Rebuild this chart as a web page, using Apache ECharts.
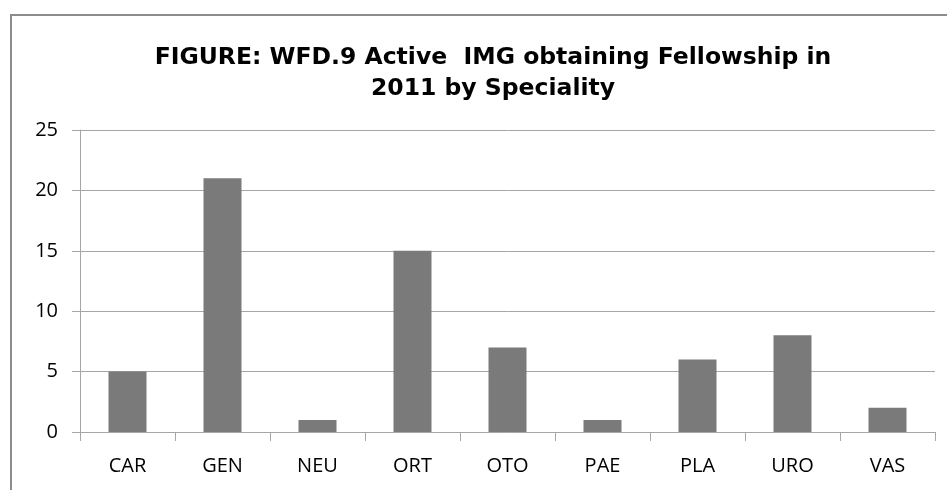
<!DOCTYPE html>
<html><head><meta charset="utf-8">
<script src="https://cdn.jsdelivr.net/npm/echarts@6/dist/echarts.min.js"></script>
<style>html,body{margin:0;padding:0;background:#fff}#c{width:947px;height:490px}</style>
</head><body><div id="c"></div>
<script>
var titleText = 'FIGURE: WFD.9 Active  IMG obtaining Fellowship in\n2011 by Speciality';
var categories = ['CAR','GEN','NEU','ORT','OTO','PAE','PLA','URO','VAS'];
var values = [5,21,1,15,7,1,6,8,2];
var yTicks = [0,5,10,15,20,25];

var chart = echarts.init(document.getElementById('c'));
chart.setOption({
  animation:false,
  backgroundColor:'#fff',
  graphic:[{type:'rect',shape:{x:11,y:15,width:960,height:500},style:{fill:'none',stroke:'#8c8c8c',lineWidth:2},silent:true}],
  title:{text:titleText,top:37,textAlign:'center',left:488,
    textStyle:{fontFamily:'DejaVu Sans',fontWeight:'bold',fontSize:23.5,color:'#000',lineHeight:31}},
  grid:{left:80,right:12,top:130,bottom:58,containLabel:false},
  xAxis:{type:'category',data:categories,
    axisLine:{show:true,lineStyle:{color:'#a6a6a6',width:1}},
    axisTick:{show:true,length:9,lineStyle:{color:'#a6a6a6'}},
    axisLabel:{color:'#000',fontFamily:'Open Sans',fontSize:20,margin:24}},
  yAxis:{type:'value',min:yTicks[0],max:yTicks[yTicks.length-1],interval:5,
    axisLine:{show:true,lineStyle:{color:'#a6a6a6',width:1}},
    axisTick:{show:true,length:8,lineStyle:{color:'#a6a6a6'}},
    splitLine:{show:true,lineStyle:{color:'#a6a6a6',width:1}},
    axisLabel:{color:'#000',fontFamily:'Open Sans',fontSize:20,margin:22}},
  series:[{type:'bar',data:values,barWidth:'40%',itemStyle:{color:'#7a7a7a'}}]
});
</script></body></html>
